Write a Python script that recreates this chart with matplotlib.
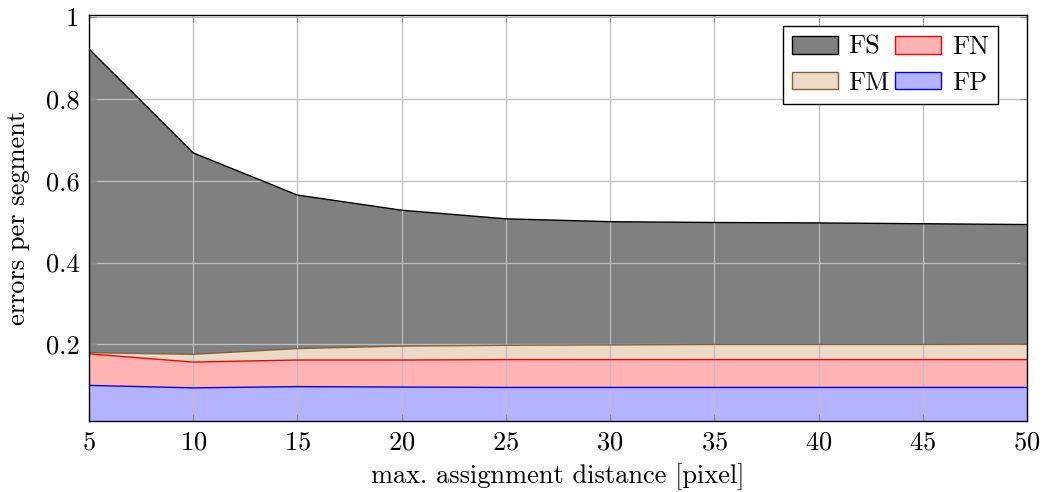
import matplotlib
matplotlib.use("Agg")
import matplotlib.pyplot as plt
import numpy as np
from matplotlib.patches import Patch

plt.rcParams['font.family'] = 'serif'
plt.rcParams['font.serif'] = ['cmr10', 'DejaVu Serif']
plt.rcParams['axes.formatter.use_mathtext'] = True
plt.rcParams['mathtext.fontset'] = 'cm'

distance = [5, 10, 15, 20, 25, 30, 35, 40, 45, 50]
fp = [0.100, 0.094, 0.097, 0.096, 0.095, 0.095, 0.095, 0.095, 0.095, 0.095]
fn = [0.077, 0.063, 0.065, 0.066, 0.068, 0.068, 0.068, 0.068, 0.068, 0.068]
fm = [0.003, 0.019, 0.028, 0.034, 0.035, 0.036, 0.037, 0.037, 0.037, 0.038]
fs = [0.742, 0.492, 0.375, 0.332, 0.309, 0.301, 0.298, 0.297, 0.295, 0.292]

x_ticks = [5, 10, 15, 20, 25, 30, 35, 40, 45, 50]
y_ticks = [0.2, 0.4, 0.6, 0.8, 1.0]
y_tick_labels = ['0.2', '0.4', '0.6', '0.8', '1']

layers = [
    ('FP', fp, '#b3b3ff', '#0000ff'),
    ('FN', fn, '#ffb3b3', '#ff0000'),
    ('FM', fm, '#ecd9c6', '#8c5e33'),
    ('FS', fs, '#808080', '#000000'),
]

FS_TXT = 19

fig = plt.figure(figsize=(10.42, 4.92), dpi=100)
ax = fig.add_axes([89 / 1042, 1 - 421 / 492, (1027 - 89) / 1042, (421 - 15) / 492])

x = np.array(distance, dtype=float)
base = np.zeros_like(x)
handles = {}
for name, vals, face, edge in layers:
    top = base + np.array(vals)
    ax.fill_between(x, base, top, facecolor=face, edgecolor='none', zorder=2)
    ax.plot(x, top, color=edge, lw=1.0, zorder=3)
    handles[name] = Patch(facecolor=face, edgecolor=edge, lw=1.0)
    base = top

ax.set_xlim(5, 50)
ax.set_ylim(0.013, 1.005)
ax.set_xticks(x_ticks)
ax.set_yticks(y_ticks)
ax.set_yticklabels(y_tick_labels)
ax.grid(True, color='#bfbfbf', lw=0.9, zorder=2.5)
ax.set_axisbelow(False)
ax.tick_params(direction='in', top=True, right=True, labelsize=FS_TXT, length=5,
               color='#888888', pad=7)
for s in ax.spines.values():
    s.set_linewidth(1.0)
    s.set_zorder(5)

ax.set_xlabel('max. assignment distance [pixel]', fontsize=FS_TXT, labelpad=6)
ax.set_ylabel('errors per segment', fontsize=FS_TXT, labelpad=11)

order = ['FS', 'FM', 'FN', 'FP']
leg = ax.legend([handles[k] for k in order], order, ncol=2, loc='upper right',
                bbox_to_anchor=(1 - 29 / 938, 1 - 11 / 406), fontsize=FS_TXT,
                frameon=True, fancybox=False, edgecolor='black', framealpha=1,
                handlelength=1.75, handleheight=0.65, handletextpad=0.4,
                columnspacing=0.2, labelspacing=0.45, borderpad=0.35,
                borderaxespad=0)
leg.get_frame().set_linewidth(1.0)
leg.set_zorder(10)

fig.savefig('out.png', dpi=100)
